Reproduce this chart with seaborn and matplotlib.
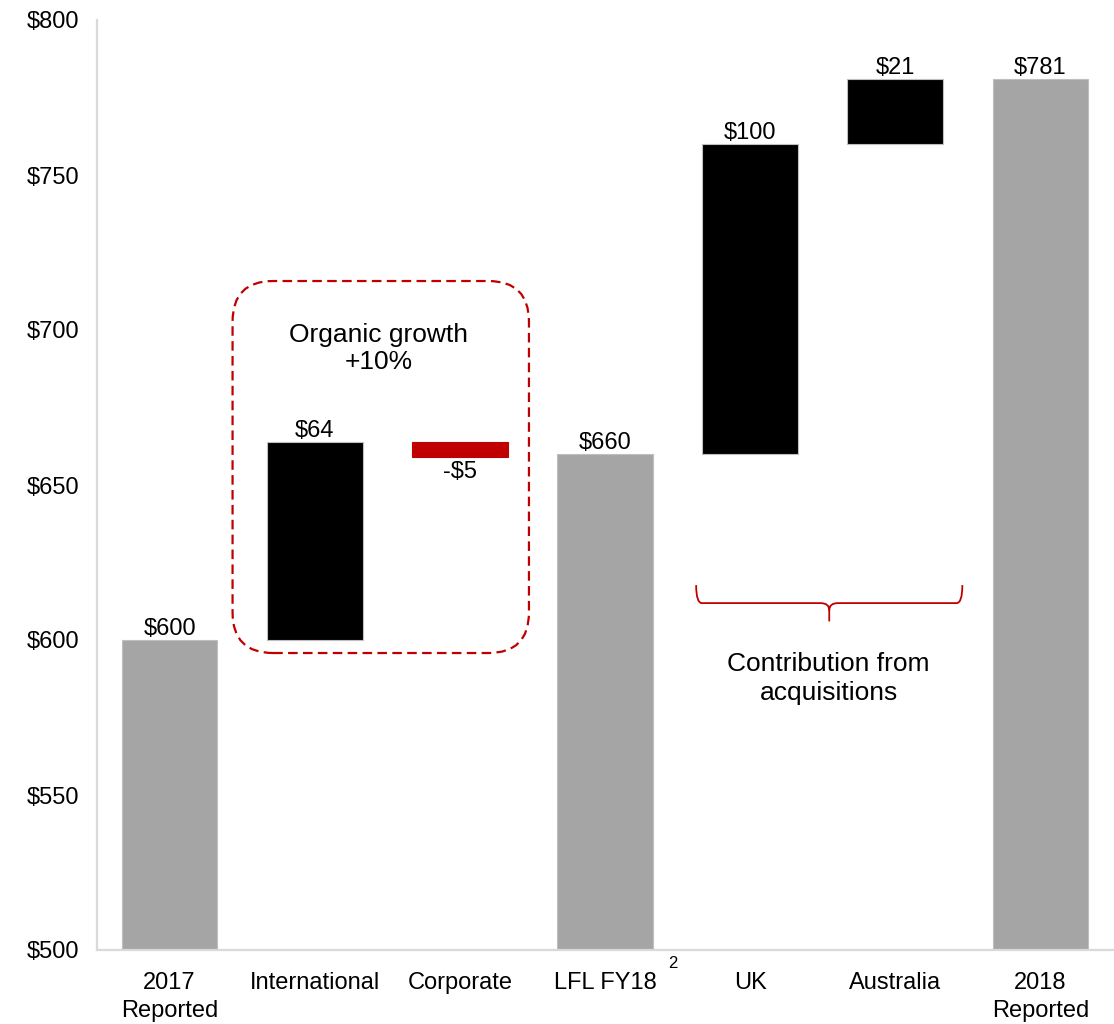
import matplotlib
matplotlib.use("Agg")
import matplotlib.pyplot as plt
import pandas as pd
import seaborn as sns
from matplotlib.patches import FancyBboxPatch, PathPatch
from matplotlib.path import Path
from matplotlib.transforms import blended_transform_factory

# Waterfall data: totals are absolute, the rest are changes
categories = ["2017\nReported", "International", "Corporate", "LFL FY18",
              "UK", "Australia", "2018\nReported"]
steps = [600, 64, -5, 660, 100, 21, 781]
is_total = [True, False, False, True, False, False, True]
value_labels = ["$600", "$64", "-$5", "$660", "$100", "$21", "$781"]
y_ticks = [500, 550, 600, 650, 700, 750, 800]
y_tick_labels = ["$500", "$550", "$600", "$650", "$700", "$750", "$800"]

GREY, BLACK, RED = "#A5A5A5", "#000000", "#C00000"

bases, heights, colors = [], [], []
running = 0
for v, tot in zip(steps, is_total):
    if tot:
        bases.append(0)
        heights.append(v)
        colors.append(GREY)
        running = v
    else:
        bases.append(running)
        heights.append(v)
        colors.append(BLACK if v >= 0 else RED)
        running += v

sns.set_theme(style="white")
plt.rcParams["font.family"] = ["Liberation Sans", "DejaVu Sans"]
plt.rcParams["text.color"] = "#000000"

fig = plt.figure(figsize=(11.14, 10.24), dpi=100)
ax = fig.add_axes([97 / 1114, 74 / 1024, 1016 / 1114, 930 / 1024])

df = pd.DataFrame({"step": categories, "height": heights})
sns.barplot(data=df, x="step", y="height", order=categories, bottom=bases,
            width=0.66, errorbar=None, color=GREY, ax=ax,
            edgecolor="#BFBFBF", linewidth=0.8)
for patch, c in zip(ax.patches, colors):
    patch.set_facecolor(c)
    if c == RED:
        patch.set_edgecolor(RED)

ax.set_xlim(-0.5, 6.5)
ax.set_ylim(500, 800)
ax.set_yticks(y_ticks)
ax.set_yticklabels(y_tick_labels)
ax.set_xlabel("")
ax.set_ylabel("")
ax.tick_params(axis="both", length=0, labelsize=17, colors="#000000")
ax.tick_params(axis="y", pad=13)
ax.tick_params(axis="x", pad=16)
for lab in ax.get_xticklabels():
    lab.set_linespacing(1.35)
for side in ("top", "right"):
    ax.spines[side].set_visible(False)
for side in ("left", "bottom"):
    ax.spines[side].set_color("#D9D9D9")
    ax.spines[side].set_linewidth(1.6)

# value labels
for i, (b, h, lab) in enumerate(zip(bases, heights, value_labels)):
    if h < 0:
        ax.annotate(lab, (i, b + h), xytext=(0, -3), textcoords="offset points",
                    ha="center", va="top", fontsize=17)
    else:
        ax.annotate(lab, (i, b + h), xytext=(0, 0), textcoords="offset points",
                    ha="center", va="bottom", fontsize=17)

# footnote marker on LFL FY18
trans = blended_transform_factory(ax.transData, ax.transAxes)
ax.text(3.47, -0.014, "2", transform=trans, fontsize=12, ha="center", va="center")

# organic growth box
box = FancyBboxPatch((0.434, 595.8), 2.042, 120.0,
                     boxstyle="round,pad=0,rounding_size=0.28",
                     mutation_aspect=46.8, fill=False, edgecolor=RED,
                     linewidth=1.6, linestyle=(0, (4.3, 2.4)),
                     transform=ax.transData, clip_on=False)
ax.add_patch(box)
ax.text(1.44, 694, "Organic growth\n+10%", ha="center", va="center",
        fontsize=19, linespacing=1.2)

# acquisitions brace
xl, xr, xc = 3.628, 5.462, 4.545
yh, ytop, yneck, ytip = 611.9, 617.7, 609.6, 606.0
verts = [
    (xl, ytop), (xl, yh), (xl + 0.04, yh),
    (xc - 0.06, yh), (xc, yh), (xc, yneck),
    (xc, ytip),
    (xc, yneck), (xc, yh), (xc + 0.06, yh),
    (xr - 0.04, yh), (xr, yh), (xr, ytop),
]
codes = [
    Path.MOVETO, Path.CURVE3, Path.CURVE3,
    Path.LINETO, Path.CURVE3, Path.CURVE3,
    Path.LINETO,
    Path.MOVETO, Path.CURVE3, Path.CURVE3,
    Path.LINETO, Path.CURVE3, Path.CURVE3,
]
ax.add_patch(PathPatch(Path(verts, codes), fill=False, edgecolor=RED,
                       linewidth=1.3, transform=ax.transData))
ax.text(4.54, 587.5, "Contribution from\nacquisitions", ha="center",
        va="center", fontsize=19, linespacing=1.25)

fig.savefig("out.png", dpi=100)
